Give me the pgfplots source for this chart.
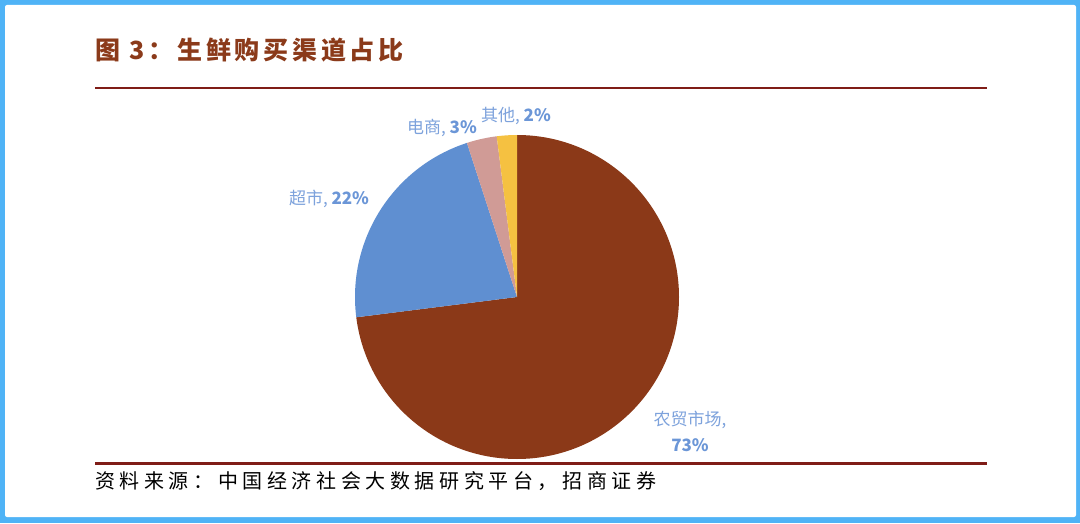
\documentclass[border=0pt]{standalone}
\usepackage{fontspec}
\setmainfont{Noto Sans CJK SC}
\usepackage{pgfplots}
\usepackage{pgfplotstable}
\pgfplotsset{compat=1.18}

\definecolor{frameblue}{HTML}{4FB3F6}
\definecolor{titlered}{HTML}{8B3A1A}
\definecolor{rulered}{HTML}{7F1D17}
\definecolor{pie0}{HTML}{8B3918}
\definecolor{pie1}{HTML}{5F8FD1}
\definecolor{pie2}{HTML}{D09B96}
\definecolor{pie3}{HTML}{F5C141}
\definecolor{lblblue}{HTML}{6B96D7}
\definecolor{lblname}{HTML}{7DA2DC}

% share of each channel, in %, clockwise from 12 o'clock
\pgfplotstableread{
channel value
农贸市场 73
超市 22
电商 3
其他 2
}\piedata

\begin{document}
\begin{tikzpicture}
\begin{axis}[
  x=1pt, y=1pt,
  xmin=0, xmax=1080, ymin=0, ymax=523,
  hide axis, clip=false,
]
% frame
\fill[frameblue] (axis cs:0,0) rectangle (axis cs:1080,523);
\fill[white, rounded corners=2pt] (axis cs:5,6) rectangle (axis cs:1076,518);

% title and rules
\node[anchor=west, text=titlered, inner sep=0pt,
  font=\fontsize{25}{25}\selectfont\bfseries\addfontfeature{LetterSpace=15}]
  at (axis cs:95,473) {图 3：生鲜购买渠道占比};
\draw[rulered, line width=2.5pt] (axis cs:95,435) -- (axis cs:987,435);
\draw[rulered, line width=2.5pt] (axis cs:95,59.5) -- (axis cs:987,59.5);
\node[anchor=west, inner sep=0pt,
  font=\fontsize{20}{20}\selectfont\addfontfeature{LetterSpace=23}]
  at (axis cs:95,42) {资料来源：中国经济社会大数据研究平台，招商证券};

% pie slices
\pgfplotstablegetrowsof{\piedata}
\pgfmathtruncatemacro\lastrow{\pgfplotsretval-1}
\def\angA{90}
\pgfplotsforeachungrouped \i in {0,...,\lastrow}{%
  \pgfplotstablegetelem{\i}{value}\of\piedata
  \pgfmathsetmacro\angB{\angA-3.6*\pgfplotsretval}%
  \edef\slice{\noexpand\fill[pie\i] (axis cs:517,226) -- ++(\angA:162pt)
    arc[start angle=\angA, end angle=\angB, radius=162pt] -- cycle;}%
  \slice
  \global\let\angA\angB
}

% data labels
\begin{scope}[every node/.style={text=lblblue, inner sep=0pt,
  font=\fontsize{17}{26}\selectfont}]
\node at (axis cs:329,324) {\textcolor{lblname}{超市,} \textbf{22\%}};
\node at (axis cs:442,395) {\textcolor{lblname}{电商,} \textbf{3\%}};
\node at (axis cs:516,407) {\textcolor{lblname}{其他,} \textbf{2\%}};
\node[align=center] at (axis cs:690,92) {\textcolor{lblname}{农贸市场,}\\\textbf{73\%}};
\end{scope}
\end{axis}
\end{tikzpicture}
\end{document}
